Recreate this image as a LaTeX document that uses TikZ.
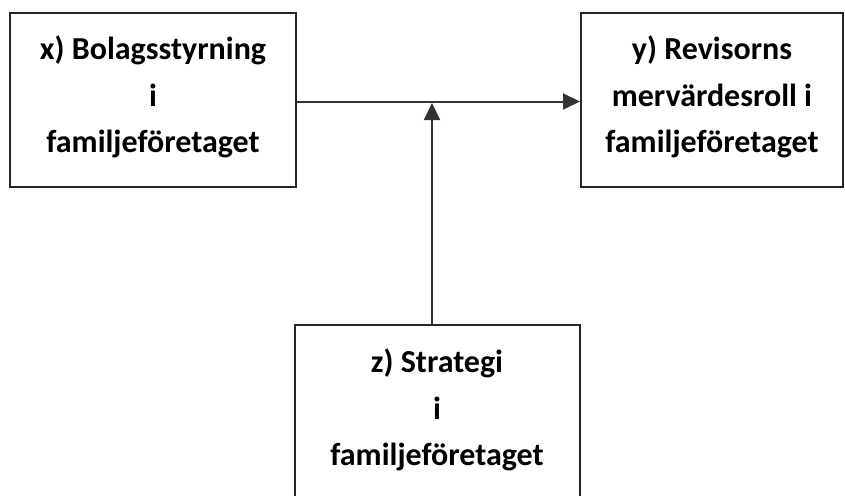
\documentclass[tikz,border=0pt]{standalone}
\usepackage{fontspec}
\setmainfont{Carlito}
\usetikzlibrary{arrows.meta}
\begin{document}
\begin{tikzpicture}[x=1pt,y=-1pt,
  frame/.style={draw=black!85, line width=2pt, inner sep=0pt},
  caption/.style={align=center, inner sep=0pt,
    font=\fontsize{32}{46.5}\selectfont\bfseries},
  link/.style={draw=black!80, line width=2pt,
    -{Triangle[length=17pt,width=16pt]}}]
  \useasboundingbox (0,0) rectangle (845,495);
  % boxes
  \node[frame, minimum width=286pt, minimum height=174pt] (x) at (153,100) {};
  \node[frame, minimum width=262pt, minimum height=174pt] (y) at (712,100) {};
  \node[frame, minimum width=285pt, minimum height=195pt] (z) at (437.5,422.5) {};
  % box texts
  \node[caption] (xt) at (153,97) {x) Bolagsstyrning\\i\\familjeföretaget};
  \node[caption] (yt) at (712,97) {y) Revisorns\\mervärdesroll i\\familjeföretaget};
  \node[caption] (zt) at (437,410) {z) Strategi\\i\\familjeföretaget};
  % connectors
  \coordinate (j) at (432,103);
  \draw[link] (x.east |- 0,101.5) -- (y.west |- 0,101.5);
  \draw[link] (z.north -| j) -- (j);
\end{tikzpicture}
\end{document}
